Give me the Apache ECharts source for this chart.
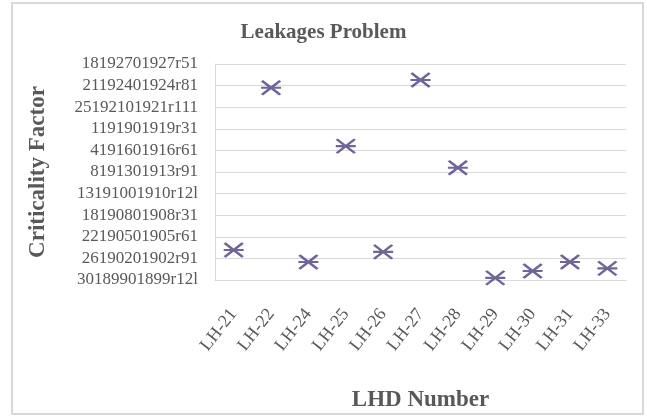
<!DOCTYPE html>
<html>
<head>
<meta charset="utf-8">
<script src="https://cdn.jsdelivr.net/npm/echarts@6/dist/echarts.min.js"></script>
<style>
  html, body { margin: 0; padding: 0; background: #fff; }
  #chart { width: 647px; height: 416px; }
</style>
</head>
<body>
<div id="chart"></div>
<script>
// LHD numbers along the x axis
const lhdNumbers = ['LH-21', 'LH-22', 'LH-24', 'LH-25', 'LH-26', 'LH-27', 'LH-28', 'LH-29', 'LH-30', 'LH-31', 'LH-33'];
// criticality factor, measured in y-axis steps (0 = bottom label)
const criticality = [1.39, 8.9, 0.83, 6.2, 1.3, 9.26, 5.2, 0.1, 0.42, 0.83, 0.54];
// y tick labels, bottom to top (as printed in the source)
const yTickLabels = [
  '30189901899r12l',
  '26190201902r91',
  '22190501905r61',
  '18190801908r31',
  '13191001910r12l',
  '8191301913r91',
  '4191601916r61',
  '1191901919r31',
  '25192101921r111',
  '21192401924r81',
  '18192701927r51'
];

const serif = '"Liberation Serif", "DejaVu Serif", serif';
const chart = echarts.init(document.getElementById('chart'));

chart.setOption({
  animation: false,
  backgroundColor: '#fff',
  title: {
    text: 'Leakages Problem',
    left: 'center',
    top: 17,
    textStyle: { fontFamily: serif, fontSize: 21, fontWeight: 'bold', color: '#595959' }
  },
  graphic: [{
    type: 'rect',
    shape: { x: 12, y: 3, width: 631, height: 411 },
    style: { fill: 'none', stroke: '#d9d9d9', lineWidth: 2 }
  }],
  grid: { left: 215, right: 21, top: 64, bottom: 136, outerBoundsMode: 'none' },
  xAxis: {
    type: 'category',
    data: lhdNumbers,
    boundaryGap: true,
    name: 'LHD Number',
    nameLocation: 'middle',
    nameGap: 109,
    nameTextStyle: { fontFamily: serif, fontSize: 23, fontWeight: 'bold', color: '#595959' },
    axisLine: { lineStyle: { color: '#d9d9d9' } },
    axisTick: { show: false },
    axisLabel: { rotate: 52, margin: 31, fontFamily: serif, fontSize: 18, color: '#595959' }
  },
  yAxis: {
    type: 'value',
    min: 0,
    max: 10,
    interval: 1,
    name: 'Criticality Factor',
    nameLocation: 'middle',
    nameGap: 165,
    nameTextStyle: { fontFamily: serif, fontSize: 23, fontWeight: 'bold', color: '#595959' },
    axisLine: { show: true, lineStyle: { color: '#d9d9d9' } },
    axisTick: { show: false },
    splitLine: { lineStyle: { color: '#d9d9d9', width: 1 } },
    axisLabel: {
      margin: 17,
      fontFamily: serif,
      fontSize: 17,
      color: '#595959',
      formatter: v => yTickLabels[Math.round(v)]
    }
  },
  series: [{
    type: 'scatter',
    data: criticality,
    symbol: 'path://M0,0L20,14M20,0L0,14M-1,7L21,7',
    symbolSize: [20, 14],
    itemStyle: { color: 'rgba(0,0,0,0)', borderColor: '#4e3d82', borderWidth: 2.5 }
  }]
});
</script>
</body>
</html>
